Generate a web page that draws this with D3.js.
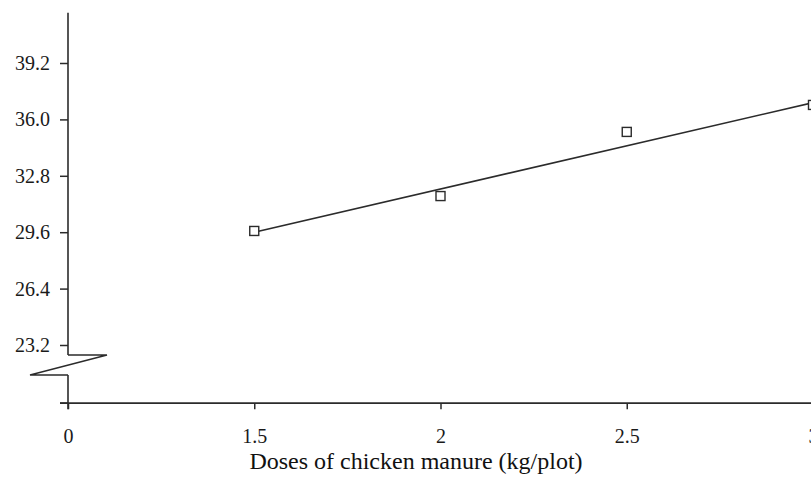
<!DOCTYPE html>
<html>
<head>
<meta charset="utf-8">
<script src="https://cdn.jsdelivr.net/npm/d3@7"></script>
<style>
  body { margin: 0; background: #fff; }
  svg { display: block; font-family: "Liberation Serif", "Times New Roman", serif; }
</style>
</head>
<body>
<svg id="chart"></svg>
<script>
// data
const doses = [1.5, 2, 2.5, 3];
const yields = [29.67, 31.65, 35.29, 36.82];
const trendX = [1.5, 3];
const trendY = [29.6, 36.95];
const xTicks = [1, 1.5, 2, 2.5, 3];
const xTickLabels = ["0", "1.5", "2", "2.5", "3"];
const yTicks = [23.2, 26.4, 29.6, 32.8, 36.0, 39.2];
const xTitle = "Doses of chicken manure (kg/plot)";

const width = 811, height = 487;
const svg = d3.select("#chart").attr("width", width).attr("height", height);

const x = d3.scaleLinear().domain([1, 3]).range([68, 813]);
const y = d3.scaleLinear().domain([23.2, 39.2]).range([345, 63]);

const ink = "#2b2b2b";
const axisX = x(1);
const axisBottom = y(19.9);
const axisTop = y(42.05);

// y axis (with ticks), line drawn separately because of the break
const yAxis = svg.append("g")
    .attr("transform", `translate(${axisX},0)`)
    .call(d3.axisLeft(y).tickValues(yTicks).tickFormat(d3.format(".1f")).tickSize(8).tickPadding(10));
yAxis.select(".domain").remove();
yAxis.selectAll(".tick line").attr("stroke", ink).attr("stroke-width", 1.5);
yAxis.selectAll(".tick text")
    .attr("fill", "#1a1a1a")
    .style("font-size", "20px")
    .style("font-family", "Liberation Serif, serif");

// axis line with break
const breakTop = y(22.63), breakBot = y(21.5);
svg.append("line").attr("x1", axisX).attr("x2", axisX).attr("y1", axisTop).attr("y2", breakTop)
    .attr("stroke", ink).attr("stroke-width", 1.6);
svg.append("line").attr("x1", axisX).attr("x2", axisX).attr("y1", breakBot).attr("y2", axisBottom + 6)
    .attr("stroke", ink).attr("stroke-width", 1.6);
svg.append("path")
    .attr("d", d3.line()([[axisX, breakTop], [axisX + 39, breakTop], [axisX - 38, breakBot], [axisX, breakBot]]))
    .attr("fill", "none").attr("stroke", ink).attr("stroke-width", 1.4).attr("stroke-linejoin", "miter");

// left tick at the origin
svg.append("line").attr("x1", axisX - 8).attr("x2", axisX).attr("y1", axisBottom).attr("y2", axisBottom)
    .attr("stroke", ink).attr("stroke-width", 1.5);

// x axis
const xAxis = svg.append("g")
    .attr("transform", `translate(0,${axisBottom})`)
    .call(d3.axisBottom(x).tickValues(xTicks).tickFormat((d, i) => xTickLabels[i]).tickSize(6).tickPadding(20).tickSizeOuter(0));
xAxis.select(".domain").attr("stroke", ink).attr("stroke-width", 1.6)
    .attr("d", `M${axisX - 8},0H${width}`);
xAxis.selectAll(".tick line").attr("stroke", ink).attr("stroke-width", 1.5);
xAxis.selectAll(".tick text")
    .attr("fill", "#1a1a1a")
    .style("font-size", "20px")
    .style("font-family", "Liberation Serif, serif");

// x title
svg.append("text")
    .attr("x", 416)
    .attr("y", 469)
    .attr("text-anchor", "middle")
    .attr("fill", "#111")
    .style("font-size", "24px")
    .text(xTitle);

// fitted line
svg.append("path")
    .datum(trendX.map((d, i) => [d, trendY[i]]))
    .attr("d", d3.line().x(d => x(d[0])).y(d => y(d[1])))
    .attr("fill", "none").attr("stroke", ink).attr("stroke-width", 1.6);

// observed points
const s = 9;
svg.selectAll("rect.pt")
    .data(doses.map((d, i) => [d, yields[i]]))
    .join("rect")
    .attr("class", "pt")
    .attr("x", d => x(d[0]) - s / 2)
    .attr("y", d => y(d[1]) - s / 2)
    .attr("width", s).attr("height", s)
    .attr("fill", "#fff").attr("stroke", ink).attr("stroke-width", 1.4);
</script>
</body>
</html>
